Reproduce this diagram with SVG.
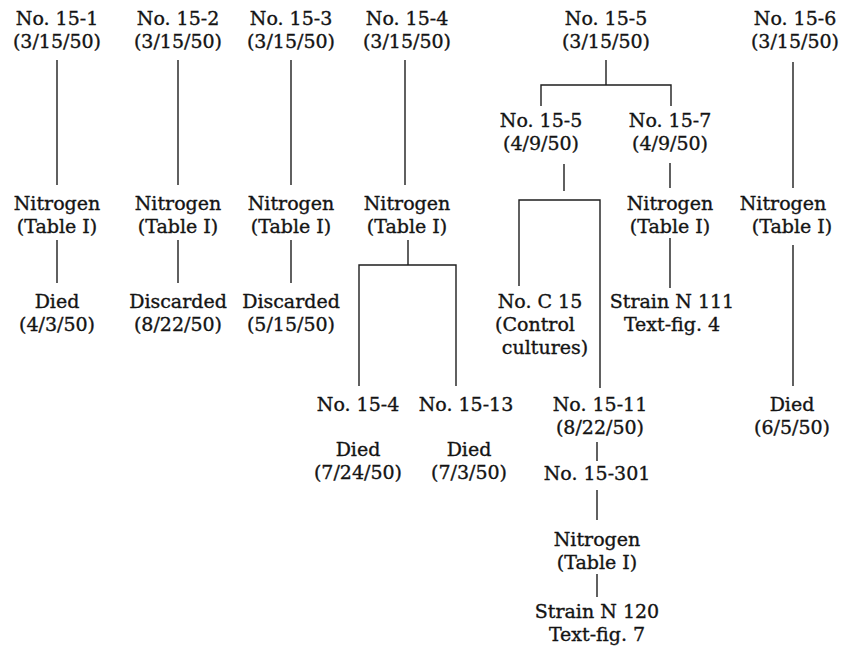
<svg xmlns="http://www.w3.org/2000/svg" width="845" height="654" viewBox="0 0 845 654">
  <style>
    text { font-family: "DejaVu Serif", "Liberation Serif", serif; font-size: 19px; fill: #141414; stroke: #141414; stroke-width: 0.35; text-anchor: middle; }
    .ln { stroke: #1e1e1e; stroke-width: 1.4; fill: none; }
  </style>
  <rect width="845" height="654" fill="#ffffff"/>

  <!-- connectors -->
  <g id="connectors">
    <!-- culture 15-1 -->
    <path class="ln" d="M57,60 V185 M57,240 V283"/>
    <!-- culture 15-2 -->
    <path class="ln" d="M178,60 V185 M178,240 V283"/>
    <!-- culture 15-3 -->
    <path class="ln" d="M291,60 V185 M291,240 V283"/>
    <!-- culture 15-4 and its split -->
    <path class="ln" d="M405,60 V185 M408,240 V265 M359,386 V265 H456 V386"/>
    <!-- culture 15-5 split into 15-5 and 15-7 -->
    <path class="ln" d="M606,60 V85 M541,106 V85 H671 V106"/>
    <!-- 15-5 (4/9/50) down to the control / 15-11 split -->
    <path class="ln" d="M564,164 V191 M519,286 V200 H600 V388"/>
    <!-- 15-7 branch -->
    <path class="ln" d="M670,163 V188 M670,238 V288"/>
    <!-- 15-11 down to strain N 120 -->
    <path class="ln" d="M597,442 V461 M597,490 V520 M597,574 V597"/>
    <!-- culture 15-6 -->
    <path class="ln" d="M793,62 V188 M793,245 V386"/>
  </g>

  <g id="n15-1">
    <text x="57" y="25">No. 15-1</text>
    <text x="57" y="48">(3/15/50)</text>
  </g>
  <g id="n15-1-nitrogen">
    <text x="57" y="210">Nitrogen</text>
    <text x="57" y="233">(Table I)</text>
  </g>
  <g id="n15-1-end">
    <text x="57" y="308">Died</text>
    <text x="57" y="331">(4/3/50)</text>
  </g>

  <g id="n15-2">
    <text x="178" y="25">No. 15-2</text>
    <text x="178" y="48">(3/15/50)</text>
  </g>
  <g id="n15-2-nitrogen">
    <text x="178" y="210">Nitrogen</text>
    <text x="178" y="233">(Table I)</text>
  </g>
  <g id="n15-2-end">
    <text x="178" y="308">Discarded</text>
    <text x="178" y="331">(8/22/50)</text>
  </g>

  <g id="n15-3">
    <text x="291" y="25">No. 15-3</text>
    <text x="291" y="48">(3/15/50)</text>
  </g>
  <g id="n15-3-nitrogen">
    <text x="291" y="210">Nitrogen</text>
    <text x="291" y="233">(Table I)</text>
  </g>
  <g id="n15-3-end">
    <text x="291" y="308">Discarded</text>
    <text x="291" y="331">(5/15/50)</text>
  </g>

  <g id="n15-4">
    <text x="407" y="25">No. 15-4</text>
    <text x="407" y="48">(3/15/50)</text>
  </g>
  <g id="n15-4-nitrogen">
    <text x="407" y="210">Nitrogen</text>
    <text x="407" y="233">(Table I)</text>
  </g>
  <g id="n15-4-sub">
    <text x="358" y="411">No. 15-4</text>
  </g>
  <g id="n15-13">
    <text x="466" y="411">No. 15-13</text>
  </g>
  <g id="n15-4-end">
    <text x="358" y="456">Died</text>
    <text x="358" y="479">(7/24/50)</text>
  </g>
  <g id="n15-13-end">
    <text x="469" y="456">Died</text>
    <text x="469" y="479">(7/3/50)</text>
  </g>

  <g id="n15-5">
    <text x="606" y="25">No. 15-5</text>
    <text x="606" y="48">(3/15/50)</text>
  </g>
  <g id="n15-5-sub">
    <text x="541" y="127">No. 15-5</text>
    <text x="541" y="150">(4/9/50)</text>
  </g>
  <g id="n15-7">
    <text x="670" y="127">No. 15-7</text>
    <text x="670" y="150">(4/9/50)</text>
  </g>
  <g id="n15-7-nitrogen">
    <text x="670" y="210">Nitrogen</text>
    <text x="670" y="233">(Table I)</text>
  </g>
  <g id="strain-n111">
    <text x="672" y="308">Strain N 111</text>
    <text x="672" y="331">Text-fig. 4</text>
  </g>
  <g id="nc15">
    <text x="540" y="308">No. C 15</text>
    <text x="535" y="331">(Control</text>
  </g>
  <g id="nc15-note">
    <text x="545" y="354">cultures)</text>
  </g>
  <g id="n15-11">
    <text x="600" y="411">No. 15-11</text>
    <text x="600" y="434">(8/22/50)</text>
  </g>
  <g id="n15-301">
    <text x="597" y="480">No. 15-301</text>
  </g>
  <g id="n15-301-nitrogen">
    <text x="597" y="546">Nitrogen</text>
    <text x="597" y="569">(Table I)</text>
  </g>
  <g id="strain-n120">
    <text x="597" y="618">Strain N 120</text>
    <text x="597" y="641">Text-fig. 7</text>
  </g>

  <g id="n15-6">
    <text x="795" y="25">No. 15-6</text>
    <text x="795" y="48">(3/15/50)</text>
  </g>
  <g id="n15-6-nitrogen">
    <text x="783" y="210">Nitrogen</text>
    <text x="792" y="233">(Table I)</text>
  </g>
  <g id="n15-6-end">
    <text x="792" y="411">Died</text>
    <text x="792" y="434">(6/5/50)</text>
  </g>
</svg>
